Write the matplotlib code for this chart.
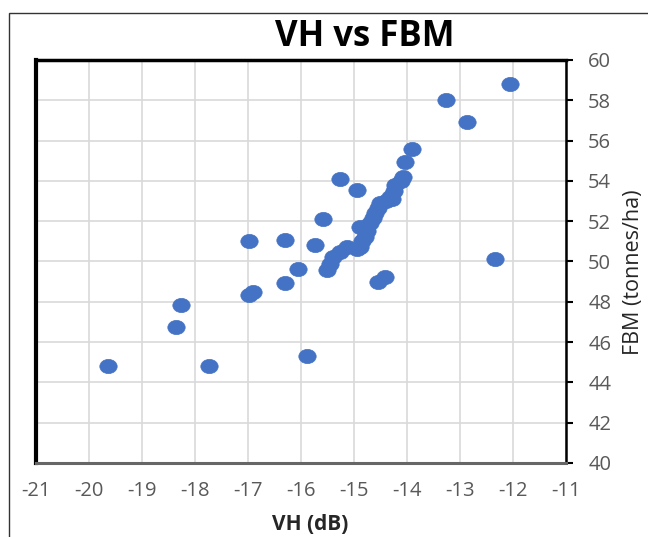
import matplotlib.pyplot as plt
from matplotlib.path import Path
from matplotlib.transforms import Affine2D
from matplotlib.patches import Rectangle

plt.rcParams['font.family'] = ['Open Sans', 'DejaVu Sans']
plt.rcParams['axes.unicode_minus'] = False

# VH (dB) und FBM (tonnes/ha)
vh = [-19.64, -17.73, -18.36, -18.26, -16.99, -16.90, -16.98, -16.30, -16.30,
      -16.05, -15.89, -15.74, -15.58, -15.26, -14.95, -14.54, -14.41, -13.27,
      -12.87, -12.34, -12.06,
      -15.51, -15.45, -15.39, -15.26, -15.14, -14.95, -14.89, -14.85, -14.79,
      -14.89, -14.75, -14.70, -14.65, -14.60, -14.55, -14.51, -14.40, -14.32,
      -14.29, -14.23, -14.25, -14.12, -14.07, -14.04, -13.90]
fbm = [44.83, 44.83, 46.76, 47.84, 48.34, 48.50, 51.00, 48.95, 51.05,
       49.64, 45.33, 50.82, 52.09, 54.08, 53.55, 49.00, 49.25, 58.00,
       56.92, 50.12, 58.79,
       49.58, 49.90, 50.24, 50.49, 50.73, 50.60, 50.73, 51.00, 51.23,
       51.73, 51.50, 51.90, 52.15, 52.40, 52.65, 52.90, 53.00, 53.20,
       53.09, 53.80, 53.50, 54.00, 54.20, 54.92, 55.57]

x_ticks = list(range(-21, -10))
y_ticks = list(range(40, 61, 2))

fig = plt.figure(figsize=(6.48, 5.37), dpi=100)
ax = fig.add_axes([36 / 648, 1 - 463 / 537, 530 / 648, 403 / 537])

# Ellipse als Marker (breiter als hoch)
ellipse = Path.unit_circle().transformed(Affine2D().scale(1.0, 0.82))
ax.scatter(vh, fbm, marker=ellipse, s=12.5 ** 2, color='#4472C4',
           edgecolors='#4472C4', linewidths=0.5, zorder=3)

ax.set_xlim(-21, -11)
ax.set_ylim(40, 60)
ax.set_xticks(x_ticks)
ax.set_yticks(y_ticks)
ax.grid(True, color='#d9d9d9', linewidth=1.2, zorder=0)
ax.set_axisbelow(True)

ax.yaxis.tick_right()
ax.tick_params(axis='y', direction='out', length=5, width=1.5, color='black',
               pad=11, labelsize=14.5, labelcolor='#595959')
ax.tick_params(axis='x', length=0, pad=13, labelsize=14.5, labelcolor='#595959')

ax.spines['left'].set_linewidth(3.0)
ax.spines['top'].set_linewidth(2.5)
ax.spines['right'].set_linewidth(1.8)
ax.spines['bottom'].set_linewidth(2.2)
ax.spines['bottom'].set_color('#666666')
for s in ['left', 'top', 'right']:
    ax.spines[s].set_color('black')

fig.text(365 / 648, 1 - 37 / 537, 'VH vs FBM', ha='center', va='center',
         fontsize=25, fontweight='bold', color='black')
fig.text(310 / 648, 2 / 537, 'VH (dB)', ha='center', va='bottom',
         fontsize=15, fontweight='bold', color='#262626')
fig.text(634 / 648, 1 - 272 / 537, 'FBM (tonnes/ha)', ha='center', va='center',
         rotation=90, fontsize=15.5, color='#262626')

# Rahmen der Diagrammfläche
fig.add_artist(Rectangle((9 / 648, -0.1), 1.2, 1.1 - 13 / 537,
                         transform=fig.transFigure, fill=False,
                         edgecolor='#333333', linewidth=1.0))

fig.savefig('out.png', dpi=100)
